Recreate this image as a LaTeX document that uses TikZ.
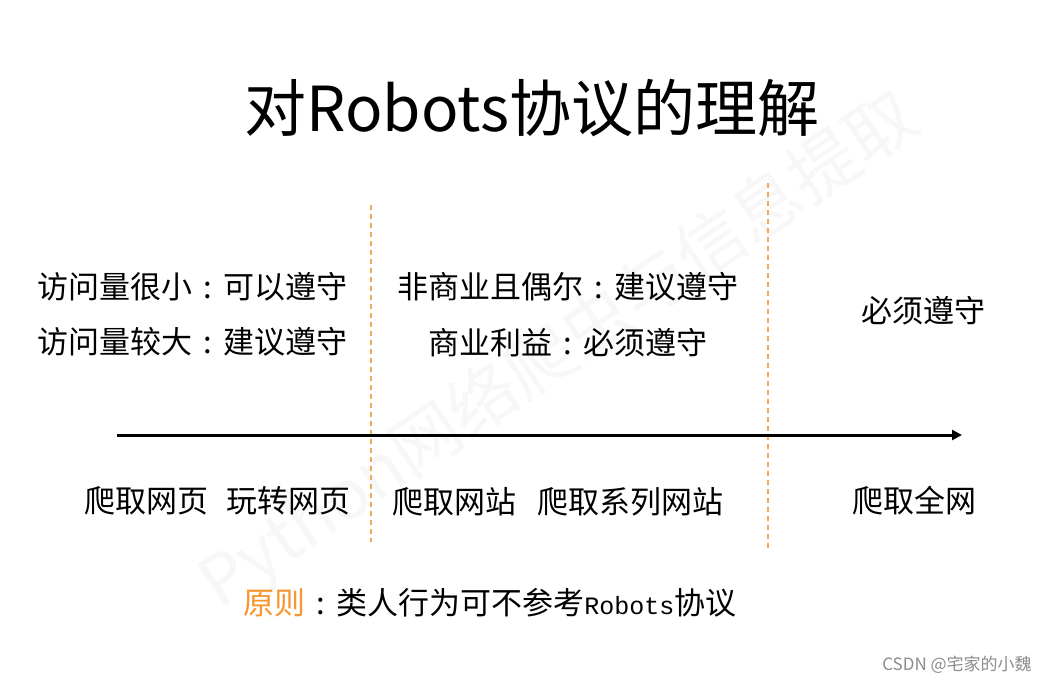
\documentclass[tikz,border=0pt]{standalone}
\usepackage{fontspec}
\setmainfont{Noto Sans CJK SC}
\newfontfamily\robotsmono{Liberation Mono}
\usetikzlibrary{arrows.meta}
\definecolor{dashorange}{RGB}{242,170,90}
\definecolor{ruleorange}{RGB}{247,150,45}
\newcommand{\midcolon}{\makebox[1em][c]{:}}
\tikzset{
	rowtext/.style={inner sep=0pt, font=\fontsize{31}{37}\selectfont},
	divider/.style={line width=1.1pt, color=dashorange, dash pattern=on 5pt off 4pt},
}

\begin{document}
\begin{tikzpicture}[x=1pt, y=-1pt]
		%%%%% START %%%%%
		\useasboundingbox[fill=white] (0, 0) rectangle (1057, 686);
		
		% watermark
		\node[rotate=34.4, color=black!3, font=\fontsize{69}{80}\selectfont] (wmark) at (560, 352) {Python网络爬虫与信息提取};
		
		\node[inner sep=0pt, font=\fontsize{62}{72}\selectfont] (title) at (532, 108) {对Robots协议的理解};
		
		% dividers
		\coordinate (divAtop) at (371, 205);
		\coordinate (divAbot) at (371, 542);
		\coordinate (divBtop) at (768, 183);
		\coordinate (divBbot) at (768, 549);
		\draw[divider] (divAtop) -- (divAbot);
		\draw[divider] (divBtop) -- (divBbot);
		
		% axis
		\coordinate (axisL) at (117, 435);
		\coordinate (axisR) at (962, 435);
		\draw[line width=3pt, -{Triangle[length=10pt, width=10pt]}] (axisL) -- (axisR);
		
		\node[rowtext] (smallA) at (192, 287) {访问量很小\midcolon 可以遵守};
		\node[rowtext] (smallB) at (192, 342) {访问量较大\midcolon 建议遵守};
		\node[rowtext] (midA) at (568, 287) {非商业且偶尔\midcolon 建议遵守};
		\node[rowtext] (midB) at (568, 343) {商业利益\midcolon 必须遵守};
		\node[rowtext] (mustR) at (923, 311) {必须遵守};
		
		\node[rowtext] (crawlPage) at (146, 501) {爬取网页};
		\node[rowtext] (playPage) at (288, 501) {玩转网页};
		\node[rowtext] (crawlSite) at (454, 502) {爬取网站};
		\node[rowtext] (crawlSeries) at (630, 502) {爬取系列网站};
		\node[rowtext] (crawlAll) at (914, 501) {爬取全网};
		
		\node[rowtext] (rule) at (490, 603) {\textcolor{ruleorange}{原则}\midcolon 类人行为可不参考{\robotsmono\fontsize{25}{30}\selectfont Robots}协议};
		
		\node[inner sep=0pt, color=black!45, font=\fontsize{17}{20}\selectfont] (csdn) at (957, 665) {CSDN @宅家的小魏};
		%%%%% END %%%%%
\end{tikzpicture}
\end{document}
